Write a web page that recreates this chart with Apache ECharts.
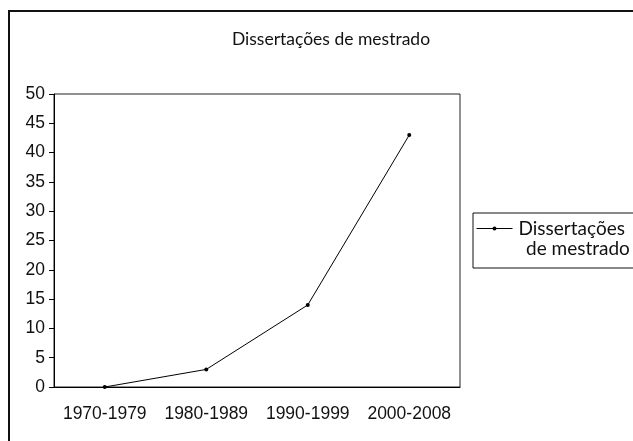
<!DOCTYPE html>
<html>
<head>
<meta charset="utf-8">
<script src="https://cdn.jsdelivr.net/npm/echarts@6/dist/echarts.min.js"></script>
<style>
  html, body { margin: 0; padding: 0; background: #fff; }
  #chart { width: 633px; height: 441px; }
</style>
</head>
<body>
<div id="chart"></div>
<script>
// Chart data
const categories = ['1970-1979', '1980-1989', '1990-1999', '2000-2008'];
const dissertacoes = [0, 3, 14, 43];
const yTicks = { min: 0, max: 50, interval: 5 };
const seriesName = 'Dissertações de mestrado';

document.addEventListener('DOMContentLoaded', function() {
    const chart = echarts.init(document.getElementById('chart'));

    const option = {
        backgroundColor: '#fff',
        animation: false,
        title: {
            text: 'Dissertações de mestrado',
            left: 326,
            top: 25,
            textAlign: 'center',
            textStyle: {
                fontFamily: 'Lato',
                fontWeight: 'normal',
                fontSize: 17.5,
                color: '#111'
            }
        },
        graphic: [{
            type: 'rect',
            shape: { x: 9, y: 11, width: 640, height: 450 },
            style: { fill: 'none', stroke: '#111', lineWidth: 2 },
            silent: true
        }, {
            // second line of the legend label
            type: 'text',
            left: 526,
            top: 239,
            style: {
                text: 'de mestrado',
                font: '19px Lato',
                fill: '#111'
            },
            silent: true
        }],
        legend: {
            orient: 'vertical',
            left: 473,
            top: 213,
            width: 160,
            padding: [6, 20, 30, 3],
            borderColor: '#111',
            borderWidth: 1,
            itemWidth: 36,
            itemHeight: 5,
            itemGap: 0,
            lineStyle: { width: 1 },
            formatter: function() {
                return 'Dissertações';
            },
            textStyle: {
                fontFamily: 'Lato',
                fontSize: 19,
                color: '#111',
                padding: [0, 0, 0, 1]
            },
            data: [seriesName]
        },
        grid: {
            left: 54,
            right: 173,
            top: 94,
            bottom: 54,
            show: true,
            borderColor: '#222',
            borderWidth: 1
        },
        xAxis: {
            type: 'category',
            data: categories,
            boundaryGap: true,
            axisLine: { lineStyle: { color: '#000', width: 1 } },
            axisTick: { length: 7, lineStyle: { color: '#000' } },
            axisLabel: {
                interval: 0,
                hideOverlap: false,
                margin: 18,
                fontFamily: 'Liberation Sans',
                fontSize: 17.5,
                color: '#111'
            }
        },
        yAxis: {
            type: 'value',
            min: yTicks.min,
            max: yTicks.max,
            interval: yTicks.interval,
            axisLine: { show: true, lineStyle: { color: '#000', width: 1 } },
            axisTick: { show: true, length: 5, lineStyle: { color: '#000' } },
            splitLine: { show: false },
            axisLabel: {
                margin: 9,
                fontFamily: 'Liberation Sans',
                fontSize: 17.5,
                color: '#111'
            }
        },
        series: [{
            name: seriesName,
            type: 'line',
            data: dissertacoes,
            symbol: 'circle',
            symbolSize: 4,
            showAllSymbol: true,
            lineStyle: { color: '#000', width: 1 },
            itemStyle: { color: '#000', borderWidth: 0 }
        }]
    };

    chart.setOption(option);
});
</script>
</body>
</html>
